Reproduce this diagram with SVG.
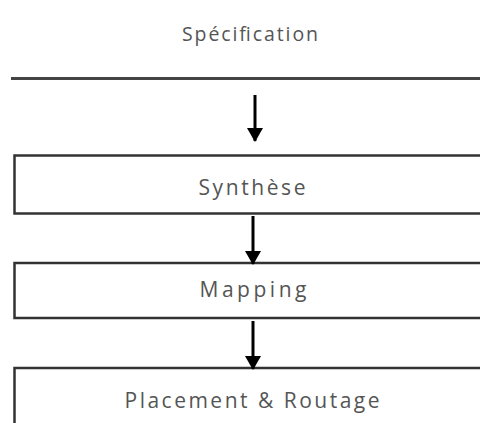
<svg xmlns="http://www.w3.org/2000/svg" width="480" height="423" viewBox="0 0 480 423">
<defs>
<style>
.box{fill:#fff;stroke:#333;stroke-width:2.5}
.lbl{font-family:"Open Sans","Noto Sans",sans-serif;font-size:21px;fill:#555;text-anchor:middle}
.arr{stroke:#000;stroke-width:3;fill:none}
</style>
<marker id="ah" markerUnits="userSpaceOnUse" markerWidth="14" markerHeight="16" refX="13" refY="8" orient="auto" viewBox="0 0 14 16">
<path d="M0,0 L14,8 L0,16 Z" fill="#000"/>
</marker>
</defs>
<rect width="480" height="423" fill="#fff"/>
<g id="specification">
<text class="lbl" x="250" y="41" style="font-size:19.5px" textLength="136" lengthAdjust="spacing">Spécification</text>
<line x1="11" y1="78.5" x2="480" y2="78.5" stroke="#444" stroke-width="3"/>
</g>
<g id="synthese">
<rect class="box" x="14.5" y="155.5" width="480" height="58"/>
<text class="lbl" x="252" y="195" textLength="107" lengthAdjust="spacing">Synthèse</text>
</g>
<g id="mapping">
<rect class="box" x="14.5" y="263" width="480" height="55" stroke="#111"/>
<text class="lbl" x="253" y="297" textLength="107" lengthAdjust="spacing">Mapping</text>
</g>
<g id="placement">
<rect class="box" x="14.5" y="368" width="480" height="60"/>
<text class="lbl" x="252" y="408" textLength="255" lengthAdjust="spacing">Placement &amp; Routage</text>
</g>
<g id="connectors">
<line class="arr" x1="255" y1="95" x2="255" y2="141" marker-end="url(#ah)"/>
<line class="arr" x1="253" y1="216" x2="253" y2="264" marker-end="url(#ah)"/>
<line class="arr" x1="253" y1="321" x2="253" y2="369" marker-end="url(#ah)"/>
</g>
</svg>
